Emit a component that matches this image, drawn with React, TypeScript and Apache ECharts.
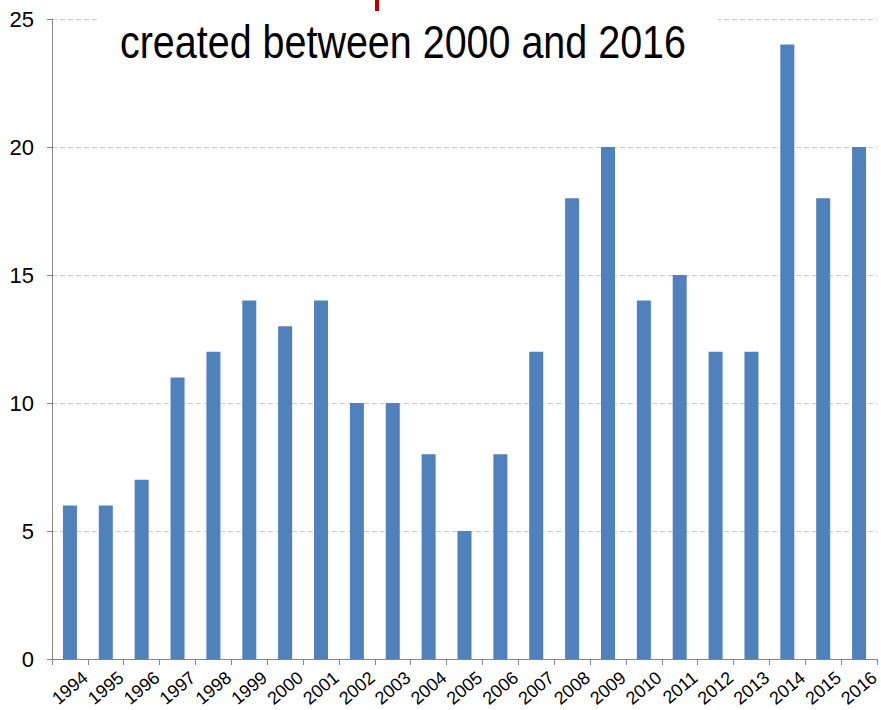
import React, { useEffect, useRef } from "react";
import * as echarts from "echarts";

const years = ["1994","1995","1996","1997","1998","1999","2000","2001","2002","2003","2004","2005","2006","2007","2008","2009","2010","2011","2012","2013","2014","2015","2016"];
const counts = [6,6,7,11,12,14,13,14,10,10,8,5,8,12,18,20,14,15,12,12,24,18,20];
const titleText = "created between 2000 and 2016";

export default function App() {
  const ref = useRef<HTMLDivElement>(null);
  useEffect(() => {
    const chart = echarts.init(ref.current!, null, { renderer: "svg" });
    chart.setOption({
      animation: false,
      backgroundColor: "#ffffff",
      grid: { left: 52, right: 4, top: 19, bottom: 51, containLabel: false, outerBoundsMode: "none" },
      xAxis: {
        type: "category",
        data: years,
        boundaryGap: true,
        axisLine: { lineStyle: { color: "#868686", width: 1 } },
        axisTick: { show: true, length: 6, lineStyle: { color: "#868686" } },
        axisLabel: {
          rotate: 40,
          fontSize: 18,
          fontFamily: "Liberation Sans",
          color: "#000",
          margin: 29,
          padding: [0, -20, 0, 0],
          interval: 0,
        },
      },
      yAxis: {
        type: "value",
        min: 0,
        max: 25,
        interval: 5,
        axisLine: { show: true, lineStyle: { color: "#868686", width: 1 } },
        axisTick: { show: true, length: 5, lineStyle: { color: "#868686" } },
        axisLabel: { fontSize: 22, fontFamily: "Liberation Sans", color: "#000", margin: 18 },
        splitLine: { show: true, lineStyle: { color: "#cfcfcf", type: [5, 3], width: 1 } },
      },
      series: [
        {
          type: "bar",
          data: counts,
          barWidth: 14,
          itemStyle: { color: "#4F81BD" },
        },
      ],
      graphic: [
        { type: "rect", shape: { x: 99, y: 10, width: 619, height: 62 }, style: { fill: "#ffffff" }, z: 10 },
        {
          type: "text",
          x: 120,
          y: 41.5,
          scaleX: 0.858,
          z: 11,
          style: {
            text: titleText,
            fontSize: 46,
            fontFamily: "Liberation Sans",
            fill: "#000",
            align: "left",
            verticalAlign: "middle",
          },
        },
        { type: "rect", shape: { x: 375, y: 0, width: 4, height: 11 }, style: { fill: "#C00000" }, z: 12 },
      ],
    });
    return () => chart.dispose();
  }, []);
  return (
    <div style={{ width: 881, height: 710, position: "fixed", left: 0, top: 0, overflow: "hidden" }}>
      <div ref={ref} style={{ width: 881, height: 710 }} />
    </div>
  );
}
